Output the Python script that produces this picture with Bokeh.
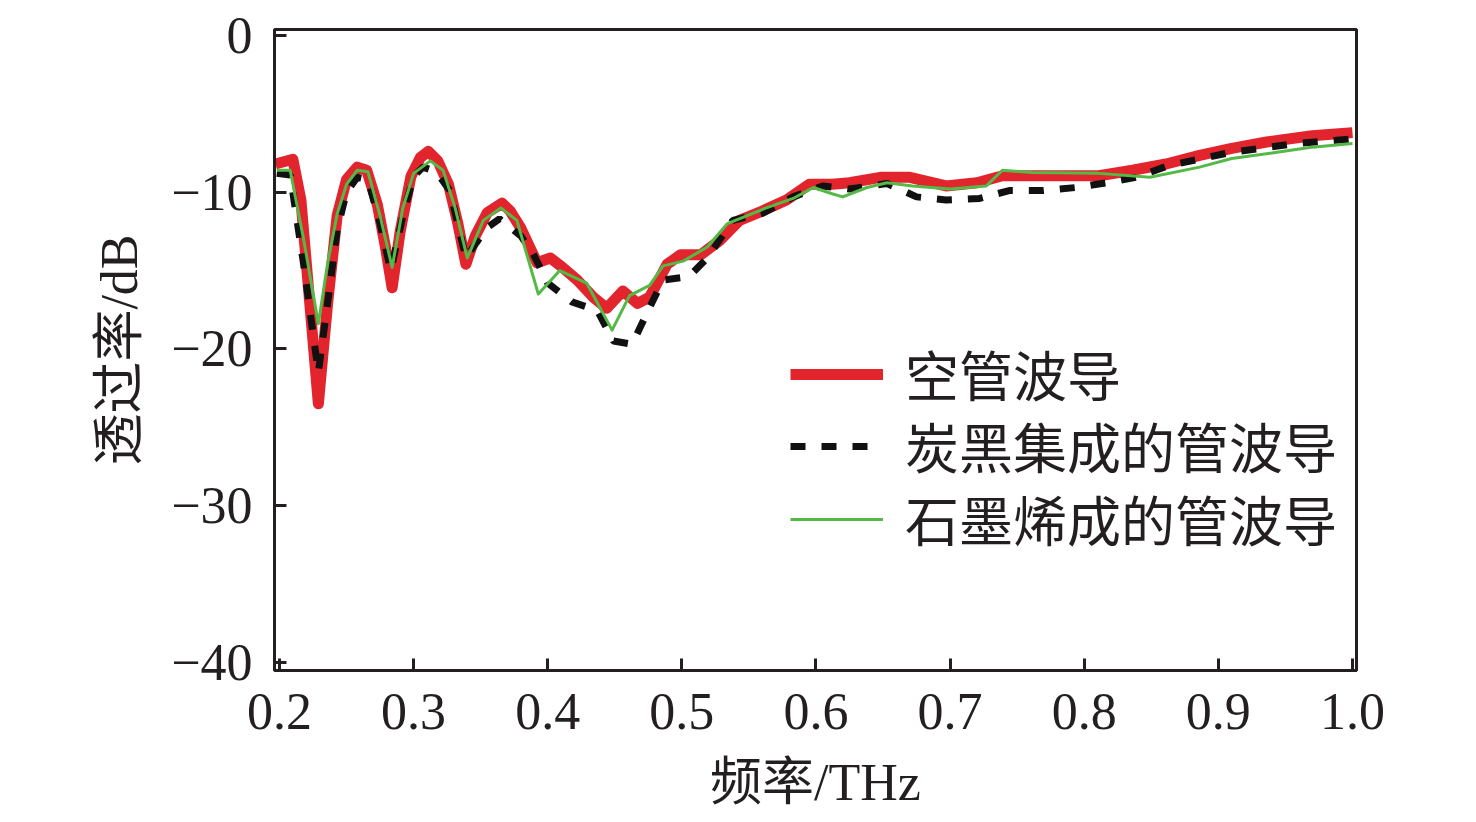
from bokeh.plotting import figure
from bokeh.models import FixedTicker, Legend, LegendItem, Range1d
from bokeh.embed import file_html
from bokeh.resources import INLINE

# ---- data ----
x_ticks = [0.2, 0.3, 0.4, 0.5, 0.6, 0.7, 0.8, 0.9, 1.0]
x_tick_labels = ["0.2", "0.3", "0.4", "0.5", "0.6", "0.7", "0.8", "0.9", "1.0"]
y_ticks = [0, -10, -20, -30, -40]
y_tick_labels = ["0", "\u221210", "\u221220", "\u221230", "\u221240"]

series_names = ["空管波导", "炭黑集成的管波导", "石墨烯成的管波导"]

red_x = [0.197, 0.210, 0.216, 0.222, 0.229, 0.236, 0.243, 0.250, 0.258, 0.265,
         0.273, 0.279, 0.284, 0.290, 0.298, 0.305, 0.311, 0.318, 0.326, 0.333,
         0.339, 0.346, 0.355, 0.366, 0.372, 0.380, 0.392, 0.402, 0.411, 0.422,
         0.434, 0.444, 0.456, 0.467, 0.476, 0.489, 0.499, 0.514, 0.528, 0.543,
         0.560, 0.578, 0.595, 0.612, 0.625, 0.648, 0.670, 0.697, 0.720, 0.739,
         0.761, 0.811, 0.836, 0.861, 0.886, 0.910, 0.936, 0.970, 1.000]
red_y = [-8.2, -7.9, -10.5, -16.5, -23.5, -17.0, -11.5, -9.2, -8.4, -8.6,
         -10.8, -13.5, -16.1, -12.5, -9.0, -7.8, -7.4, -8.0, -9.5, -12.0,
         -14.6, -12.8, -11.3, -10.7, -11.2, -12.3, -14.5, -14.2, -14.8, -15.6,
         -16.7, -17.4, -16.3, -17.1, -16.7, -14.6, -14.0, -14.0, -13.1, -11.8,
         -11.2, -10.5, -9.5, -9.5, -9.4, -9.05, -9.05, -9.6, -9.4, -8.95,
         -8.95, -8.95, -8.6, -8.2, -7.65, -7.2, -6.8, -6.4, -6.2]

black_x = [0.198, 0.208, 0.218, 0.229, 0.236, 0.243, 0.250, 0.258, 0.266, 0.275,
           0.283, 0.292, 0.300, 0.307, 0.317, 0.327, 0.339, 0.347, 0.355, 0.364,
           0.372, 0.380, 0.389, 0.400, 0.418, 0.437, 0.449, 0.463, 0.474, 0.486,
           0.505, 0.519, 0.538, 0.560, 0.583, 0.605, 0.625, 0.653, 0.675, 0.697,
           0.722, 0.744, 0.769, 0.794, 0.817, 0.839, 0.863, 0.888, 0.910, 0.936,
           0.958, 1.000]
black_y = [-8.8, -8.9, -14.6, -21.5, -17.0, -12.4, -10.0, -9.05, -9.2, -12.0,
           -15.0, -11.5, -9.0, -8.4, -8.7, -9.9, -14.2, -13.2, -12.25, -11.7,
           -12.25, -12.8, -13.9, -15.8, -17.0, -17.55, -19.5, -19.7, -17.7, -15.6,
           -15.4, -14.2, -11.8, -11.35, -10.3, -9.6, -9.8, -9.45, -10.3, -10.5,
           -10.4, -9.9, -9.9, -9.7, -9.4, -9.05, -8.3, -7.85, -7.45, -7.15,
           -6.9, -6.6]

green_x = [0.198, 0.208, 0.218, 0.229, 0.236, 0.243, 0.250, 0.258, 0.266, 0.275,
           0.284, 0.292, 0.300, 0.3125, 0.322, 0.331, 0.340, 0.352, 0.365, 0.377,
           0.393, 0.409, 0.429, 0.448, 0.461, 0.476, 0.486, 0.501, 0.519, 0.534,
           0.563, 0.583, 0.598, 0.612, 0.620, 0.638, 0.653, 0.672, 0.700, 0.727,
           0.739, 0.761, 0.811, 0.849, 0.886, 0.910, 0.940, 0.968, 1.000]
green_y = [-8.6, -8.6, -13.0, -18.4, -14.5, -11.4, -9.5, -8.6, -8.7, -11.5,
           -14.8, -11.0, -8.8, -8.0, -8.6, -11.0, -14.2, -11.8, -11.0, -11.8,
           -16.5, -15.0, -15.8, -18.8, -16.6, -15.95, -14.7, -14.4, -13.5, -12.0,
           -11.0, -10.4, -9.7, -10.1, -10.3, -9.7, -9.4, -9.6, -9.8, -9.6,
           -8.6, -8.75, -8.8, -9.05, -8.4, -7.85, -7.5, -7.15, -6.9]

# ---- styling ----
FONT = "'Liberation Serif', 'Noto Sans CJK SC', serif"
TXT = "#231f20"

p = figure(width=1460, height=814, output_backend="svg", toolbar_location=None,
           x_range=Range1d(0.1963, 1.003), y_range=Range1d(-40.52, 0.38),
           min_border_left=274, min_border_right=104, min_border_top=29,
           min_border_bottom=144)
p.grid.visible = False
p.background_fill_color = "white"
p.border_fill_color = "white"
p.outline_line_color = TXT
p.outline_line_width = 3

for ax in (p.xaxis[0], p.yaxis[0]):
    ax.axis_line_color = TXT
    ax.axis_line_width = 3
    ax.major_tick_line_color = TXT
    ax.major_tick_line_width = 3
    ax.major_tick_in = 12
    ax.major_tick_out = 0
    ax.minor_tick_line_color = None
    ax.major_label_text_font = FONT
    ax.major_label_text_font_size = "52px"
    ax.major_label_text_color = TXT
    ax.axis_label_text_font = FONT
    ax.axis_label_text_font_size = "52px"
    ax.axis_label_text_color = TXT
    ax.axis_label_text_font_style = "normal"

p.xaxis[0].ticker = FixedTicker(ticks=x_ticks)
p.xaxis[0].major_label_overrides = {t: l for t, l in zip(x_ticks, x_tick_labels)}
p.yaxis[0].ticker = FixedTicker(ticks=y_ticks)
p.yaxis[0].major_label_overrides = {t: l for t, l in zip(y_ticks, y_tick_labels)}
p.xaxis[0].axis_label = "频率/THz"
p.yaxis[0].axis_label = "透过率/dB"
p.xaxis[0].major_label_standoff = 23
p.xaxis[0].axis_label_standoff = 22
p.yaxis[0].major_label_standoff = 22
p.yaxis[0].axis_label_standoff = 20

r_red = p.line(red_x, red_y, line_color="#e2252d", line_width=11, line_join="round")
r_black = p.line(black_x, black_y, line_color="#111111", line_width=7,
                 line_dash="15 16")
r_green = p.line(green_x, green_y, line_color="#55b947", line_width=3,
                 line_join="round")

# one legend box per row so that the row spacing matches the reference
legend_rows = [(series_names[0], r_red, 257),
               (series_names[1], r_black, 185),
               (series_names[2], r_green, 112)]
for name, rend, ypos in legend_rows:
    lg = Legend(items=[LegendItem(label=name, renderers=[rend])],
                location=(516, ypos))
    lg.border_line_color = None
    lg.background_fill_alpha = 0
    lg.padding = 0
    lg.margin = 0
    lg.glyph_width = 93
    lg.glyph_height = 72
    lg.label_height = 72
    lg.label_standoff = 22
    lg.label_text_font = FONT
    lg.label_text_font_size = "54px"
    lg.label_text_color = TXT
    p.add_layout(lg, "center")

open("out.html", "w").write(file_html(p, INLINE))
